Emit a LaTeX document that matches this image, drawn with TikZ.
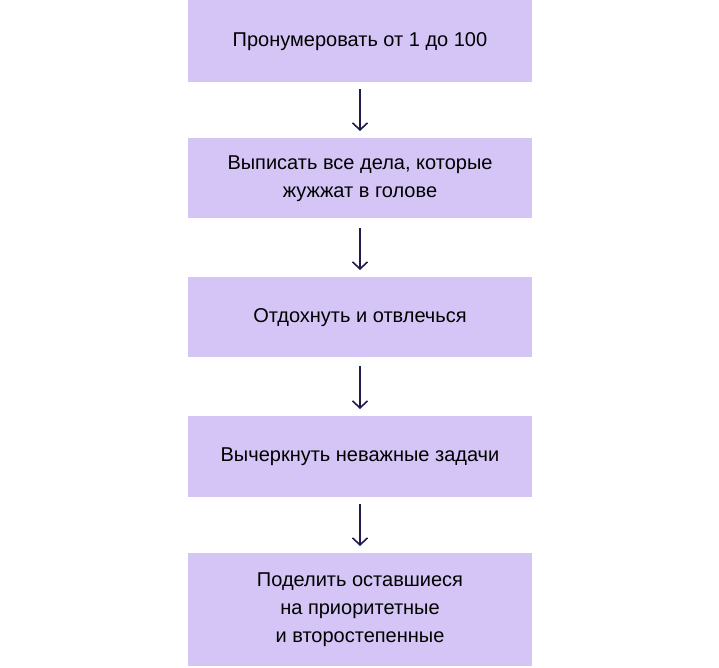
\documentclass[tikz,border=0pt]{standalone}
\usepackage{fontspec}
\setmainfont{Liberation Sans}
\usetikzlibrary{arrows.meta}
\definecolor{boxfill}{HTML}{D4C5F6}
\definecolor{arrowcol}{HTML}{1F1B4D}
\begin{document}
\begin{tikzpicture}[x=1pt,y=-1pt,
  stepbox/.style={rectangle, fill=boxfill, draw=none, minimum width=344pt, anchor=north, align=center, inner sep=0pt, font=\fontsize{20}{28}\selectfont},
  flowarrow/.style={draw=arrowcol, line width=1.6pt, -{Straight Barb[length=7pt,width=15pt,line width=1.6pt]}}]
\useasboundingbox (0,0) rectangle (719,668);
\node[stepbox, minimum height=82pt] (b1) at (360,0) {Пронумеровать от 1 до 100};
\node[stepbox, minimum height=80pt] (b2) at (360,138) {Выписать все дела, которые\\жужжат в голове};
\node[stepbox, minimum height=80pt] (b3) at (360,277) {Отдохнуть и отвлечься};
\node[stepbox, minimum height=81pt] (b4) at (360,416) {Вычеркнуть неважные задачи};
\node[stepbox, minimum height=113pt] (b5) at (360,553) {Поделить оставшиеся\\на приоритетные\\и второстепенные};
\draw[flowarrow] ([yshift=-7pt]b1.south) -- ([yshift=7pt]b2.north);
\draw[flowarrow] ([yshift=-10pt]b2.south) -- ([yshift=7pt]b3.north);
\draw[flowarrow] ([yshift=-9pt]b3.south) -- ([yshift=7pt]b4.north);
\draw[flowarrow] ([yshift=-7pt]b4.south) -- ([yshift=7pt]b5.north);
\end{tikzpicture}
\end{document}
